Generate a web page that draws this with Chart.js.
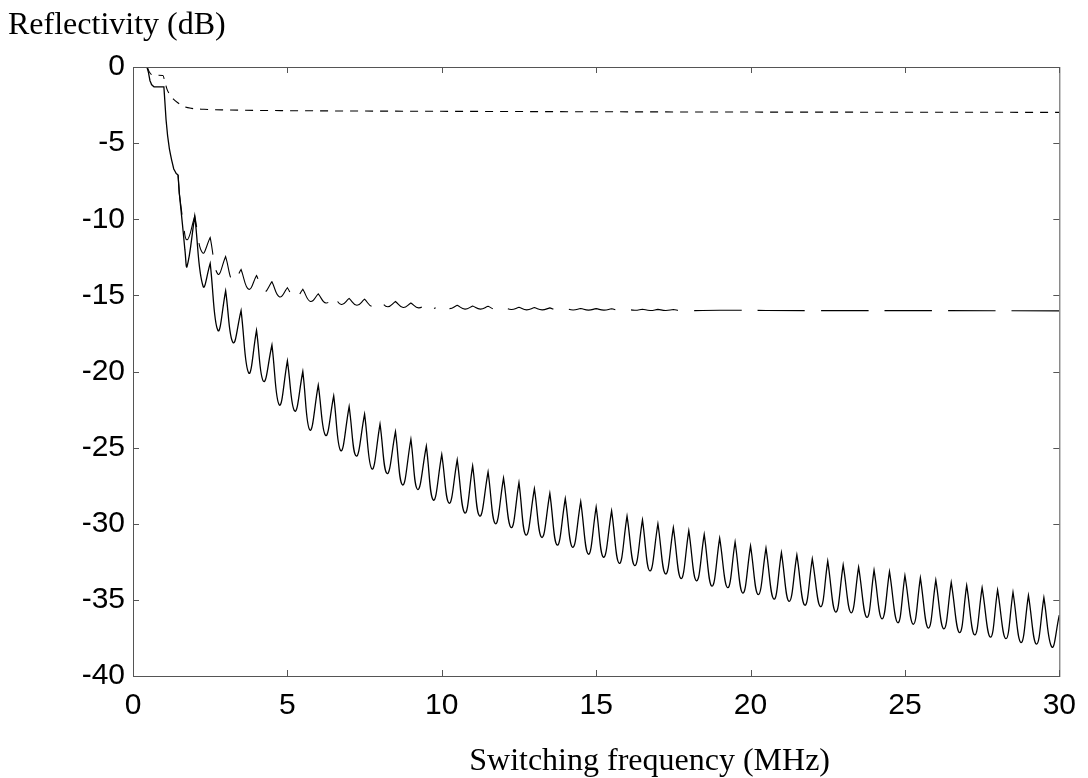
<!DOCTYPE html>
<html lang="en">
<head>
<meta charset="UTF-8" />
<title>Reflectivity vs switching frequency</title>
<script src="https://cdn.jsdelivr.net/npm/chart.js"></script>
<style>
  html, body { margin: 0; padding: 0; background: #fff; }
  #wrap { width: 1088px; height: 778px; }
</style>
</head>
<body>
<div id="wrap"><canvas id="reflChart" width="1088" height="778"></canvas></div>
<script>
// values: frequency in MHz, reflectivity in dB
const xTicks = [0, 5, 10, 15, 20, 25, 30];
const yTicks = [0, -5, -10, -15, -20, -25, -30, -35, -40];

// solid curve: start, then trough / peak ripple
const solidHeadF  = [0, 0.45, 0.5, 0.55, 0.6, 0.68, 1.0, 1.03, 1.07, 1.12, 1.18, 1.25, 1.32, 1.4, 1.46, 1.5, 1.6, 1.68];
const solidHeadDb = [0, 0, -0.35, -0.9, -1.15, -1.3, -1.3, -2.2, -3.45, -4.5, -5.4, -6.1, -6.7, -7.0, -7.1, -8.3, -10.3, -12.0];
const solidTroughF = [1.75, 2.27, 2.75, 3.24, 3.75, 4.23, 4.74, 5.24, 5.73, 6.24, 6.73, 7.23, 7.74, 8.23, 8.73, 9.22, 9.73,
  10.24, 10.75, 11.23, 11.74, 12.25, 12.73, 13.24, 13.74, 14.24, 14.75, 15.24, 15.75, 16.25, 16.74, 17.25, 17.75, 18.25,
  18.75, 19.26, 19.75, 20.25, 20.76, 21.25, 21.76, 22.27, 22.76, 23.26, 23.77, 24.26, 24.77, 25.27, 25.76, 26.26, 26.77,
  27.26, 27.77, 28.27, 28.76, 29.26, 29.76];
const solidTroughDb = [-13.1, -14.4, -17.3, -18.1, -20.1, -20.65, -22.2, -22.6, -23.85, -24.2, -25.2, -25.55, -26.4, -26.7,
  -27.45, -27.75, -28.45, -28.65, -29.3, -29.5, -30.0, -30.25, -30.75, -30.9, -31.4, -31.55, -32.0, -32.2, -32.6, -32.75,
  -33.1, -33.3, -33.6, -33.75, -34.1, -34.2, -34.55, -34.65, -34.95, -35.1, -35.35, -35.45, -35.8, -35.85, -36.15, -36.25,
  -36.5, -36.6, -36.85, -36.9, -37.15, -37.3, -37.45, -37.55, -37.8, -37.9, -38.1];
const solidPeakF = [2.0, 2.5, 3.0, 3.5, 4.0, 4.5, 5.0, 5.5, 6.0, 6.5, 7.0, 7.5, 8.0, 8.5, 9.0, 9.5, 10.0, 10.5, 11.0, 11.5,
  12.0, 12.5, 13.0, 13.5, 14.0, 14.5, 15.0, 15.5, 16.0, 16.5, 17.0, 17.5, 18.0, 18.5, 19.0, 19.5, 20.0, 20.5, 21.0, 21.5,
  22.0, 22.5, 23.0, 23.5, 24.0, 24.5, 25.0, 25.5, 26.0, 26.5, 27.0, 27.5, 28.0, 28.5, 29.0, 29.5];
const solidPeakDb = [-9.8, -12.9, -14.7, -16.0, -17.3, -18.26, -19.3, -20.0, -20.9, -21.6, -22.3, -22.8, -23.45, -23.95,
  -24.45, -24.9, -25.45, -25.8, -26.2, -26.6, -27.0, -27.3, -27.7, -28.0, -28.35, -28.55, -28.9, -29.15, -29.5, -29.75,
  -30.0, -30.25, -30.45, -30.7, -30.95, -31.2, -31.45, -31.6, -31.9, -32.05, -32.3, -32.45, -32.7, -32.85, -33.05, -33.15,
  -33.4, -33.55, -33.7, -33.85, -34.05, -34.2, -34.35, -34.5, -34.7, -34.85];
const solidTailF = [30];
const solidTailDb = [-36.0];

// long dashed curve (joins the solid one up to about 1.5 MHz)
const longHeadF  = [1.46, 1.5, 1.6];
const longHeadDb = [-7.1, -8.3, -9.9];
const longTroughF = [1.75, 2.25, 2.75, 3.25, 3.75, 4.25, 4.75, 5.25, 5.75, 6.25, 6.75, 7.25, 7.75, 8.25, 8.75, 9.25, 9.75,
  10.25, 10.75, 11.25, 11.75, 12.25, 12.75, 13.25, 13.75, 14.25, 14.75, 15.25, 15.75, 16.25, 16.75, 17.25, 17.75];
const longTroughDb = [-11.35, -12.2, -13.6, -14.1, -14.6, -14.75, -15.1, -15.2, -15.4, -15.5, -15.6, -15.65, -15.72, -15.75,
  -15.8, -15.82, -15.86, -15.87, -15.9, -15.9, -15.92, -15.93, -15.95, -15.95, -15.96, -15.96, -15.97, -15.97, -15.98,
  -15.98, -15.99, -15.99, -16.0];
const longPeakF = [2.0, 2.5, 3.0, 3.5, 4.0, 4.5, 5.0, 5.5, 6.0, 6.5, 7.0, 7.5, 8.0, 8.5, 9.0, 9.5, 10.0, 10.5, 11.0, 11.5,
  12.0, 12.5, 13.0, 13.5, 14.0, 14.5, 15.0, 15.5, 16.0, 16.5, 17.0, 17.5];
const longPeakDb = [-9.8, -11.2, -12.45, -13.3, -13.7, -14.1, -14.5, -14.6, -14.9, -15.0, -15.2, -15.25, -15.35, -15.4,
  -15.5, -15.55, -15.6, -15.65, -15.7, -15.72, -15.75, -15.78, -15.8, -15.82, -15.84, -15.86, -15.87, -15.88, -15.9,
  -15.91, -15.92, -15.93];
const longTailF = [19, 22, 26, 30];
const longTailDb = [-15.98, -16.0, -16.0, -16.02];

// short dashed curve
const shortF  = [0, 0.45, 0.52, 0.6, 0.7, 0.97, 1.03, 1.1, 1.2, 1.3, 1.45, 1.65, 1.9, 2.3, 3, 4, 6, 10, 15, 20, 25, 30];
const shortDb = [0, 0, -0.3, -0.5, -0.54, -0.56, -0.95, -1.45, -1.85, -2.1, -2.35, -2.6, -2.72, -2.78, -2.82, -2.85,
  -2.88, -2.91, -2.94, -2.96, -2.97, -2.98];

// points given twice become sharp corners in the spline (cusps at the peaks)
function twice(pts, f, db) { pts.push({ x: f, y: db }, { x: f, y: db }); }

function rippleCurve(headF, headDb, troughF, troughDb, peakF, peakDb, tailF, tailDb) {
  const pts = [];
  headF.forEach((f, i) => twice(pts, f, headDb[i]));
  troughF.forEach((f, i) => {
    pts.push({ x: f, y: troughDb[i] });
    if (i < peakF.length) twice(pts, peakF[i], peakDb[i]);
  });
  tailF.forEach((f, i) => pts.push({ x: f, y: tailDb[i] }));
  return pts;
}

const solidPts = rippleCurve(solidHeadF, solidHeadDb, solidTroughF, solidTroughDb, solidPeakF, solidPeakDb, solidTailF, solidTailDb);
const longPts = rippleCurve(longHeadF, longHeadDb, longTroughF, longTroughDb, longPeakF, longPeakDb, longTailF, longTailDb);
const shortPts = shortF.map((f, i) => ({ x: f, y: shortDb[i] }));

// the long dashed line is drawn in two pieces (joined at the 9.75 MHz trough) so the dash phase follows the figure
const cut = longPts.findIndex(p => p.x === 9.75);
const longA = longPts.slice(0, cut + 1);
const longB = longPts.slice(cut);

// box + inward tick marks on all four sides, and the two titles
const frame = {
  id: 'frame',
  afterDraw(chart) {
    const { ctx, chartArea: a, scales } = chart;
    ctx.save();
    ctx.strokeStyle = '#555';
    ctx.lineWidth = 1;
    ctx.strokeRect(a.left + 0.5, a.top + 0.5, a.right - a.left, a.bottom - a.top);
    ctx.beginPath();
    xTicks.forEach(v => {
      const px = Math.round(scales.x.getPixelForValue(v)) + 0.5;
      ctx.moveTo(px, a.bottom); ctx.lineTo(px, a.bottom - 6);
      ctx.moveTo(px, a.top); ctx.lineTo(px, a.top + 6);
    });
    yTicks.forEach(v => {
      const py = Math.round(scales.y.getPixelForValue(v)) + 0.5;
      ctx.moveTo(a.left, py); ctx.lineTo(a.left + 6, py);
      ctx.moveTo(a.right, py); ctx.lineTo(a.right - 6, py);
    });
    ctx.stroke();

    ctx.fillStyle = '#000';
    ctx.font = '32px "Liberation Serif", "Times New Roman", serif';
    ctx.textBaseline = 'alphabetic';
    ctx.textAlign = 'left';
    ctx.fillText('Reflectivity (dB)', 8, 34);
    ctx.textAlign = 'right';
    ctx.fillText('Switching frequency (MHz)', 830, 770);
    ctx.restore();
  }
};

const tickFont = { family: '"Liberation Sans", Arial, sans-serif', size: 30 };
const thin = { borderColor: '#000', borderWidth: 1.1, pointRadius: 0, fill: false };

new Chart(document.getElementById('reflChart'), {
  type: 'line',
  data: {
    datasets: [
      { data: solidPts, borderColor: '#000', borderWidth: 1.3, pointRadius: 0, tension: 0.45, fill: false },
      { ...thin, data: longA, borderDash: [46, 16], borderDashOffset: 6, tension: 0.45 },
      { ...thin, data: longB, borderDash: [47.5, 16], borderDashOffset: 46, tension: 0.45 },
      { ...thin, data: shortPts, borderDash: [8, 7], cubicInterpolationMode: 'monotone' }
    ]
  },
  options: {
    responsive: false,
    animation: false,
    devicePixelRatio: 1,
    layout: { padding: { top: 67, right: 24, left: 0, bottom: 0 } },
    plugins: { legend: { display: false }, tooltip: { enabled: false }, title: { display: false } },
    scales: {
      x: {
        type: 'linear', min: 0, max: 30,
        afterBuildTicks: s => { s.ticks = xTicks.map(v => ({ value: v })); },
        afterFit: s => { s.height = 102; },
        ticks: { font: tickFont, color: '#000', padding: 12, maxRotation: 0, autoSkip: false },
        grid: { display: false, drawTicks: false },
        border: { display: false }
      },
      y: {
        type: 'linear', min: -40, max: 0,
        afterBuildTicks: s => { s.ticks = yTicks.map(v => ({ value: v })); },
        afterFit: s => { s.width = 133; },
        ticks: { font: tickFont, color: '#000', padding: 8, autoSkip: false },
        grid: { display: false, drawTicks: false },
        border: { display: false }
      }
    }
  },
  plugins: [frame]
});
</script>
</body>
</html>
